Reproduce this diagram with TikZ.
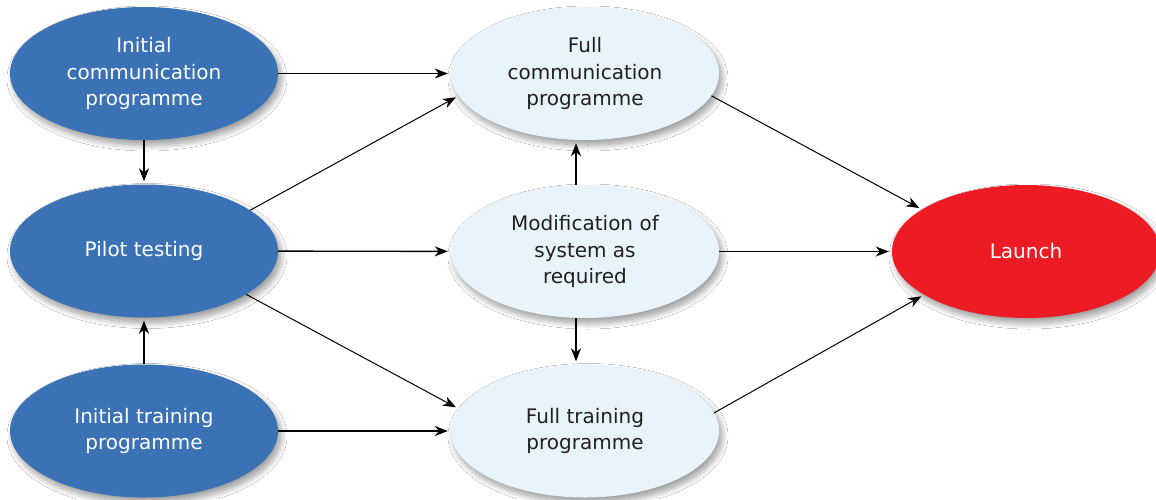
\documentclass[tikz,border=0pt]{standalone}
\usepackage{fontspec}
\setmainfont{DejaVu Sans}
\usetikzlibrary{shapes.geometric,arrows.meta,shadows.blur}
\definecolor{dblue}{RGB}{58,114,181}
\definecolor{lblue}{RGB}{232,244,252}
\definecolor{lred}{RGB}{237,28,36}
\definecolor{dtext}{RGB}{35,31,32}
\begin{document}
\begin{tikzpicture}[x=1pt,y=-1pt,
  blob/.style={ellipse, minimum width=268pt, minimum height=133pt, inner sep=0pt,
    align=center, font=\fontsize{20}{26.7}\selectfont,
    blur shadow={shadow xshift=3pt, shadow yshift=-5pt, shadow blur radius=6pt, shadow blur steps=12, shadow opacity=40}},
  darkblob/.style={blob, fill=dblue, text=white},
  lightblob/.style={blob, fill=lblue, text=dtext},
  redblob/.style={blob, fill=lred, text=white},
  conn/.style={-{Stealth[length=13pt,width=10pt,inset=4pt]}, line width=1pt, shorten >=3pt},
  hconn/.style={conn, line width=1.4pt},
  vconn/.style={conn, line width=1.8pt}]
\useasboundingbox (0,0) rectangle (1156,499);
\fill[white] (0,0) rectangle (1156,499);
\node[darkblob] (ic) at (144,73.5) {Initial\\communication\\programme};
\node[darkblob] (pt) at (144,251) {Pilot testing};
\node[darkblob] (it) at (144,431) {Initial training\\programme};
\node[lightblob] (fc) at (585,73.5) {Full\\communication\\programme};
\node[lightblob] (mo) at (585,251.5) {Modification of\\system as\\required};
\node[lightblob] (ft) at (585,431) {Full training\\programme};
\node[redblob] (la) at (1026,251.5) {Launch};
\draw[hconn] (ic) -- (fc);
\draw[hconn] (ic) -- (pt);
\draw[hconn] (it) -- (pt);
\draw[hconn] (pt) -- (mo);
\draw[hconn] (it) -- (ft);
\draw[hconn] (mo) -- (la);
\draw[conn] (pt.21.7) -- (fc.190.6);
\draw[conn] (pt.-23) -- (ft.170.2);
\draw[conn] (fc.-10.3) -- (la.158);
\draw[conn] (ft.8.6) -- (la.203);
\draw[vconn] ([xshift=-9pt]mo.north) -- ([xshift=-9pt]fc.south);
\draw[vconn] ([xshift=-9pt]mo.south) -- ([xshift=-9pt]ft.north);
\end{tikzpicture}
\end{document}
